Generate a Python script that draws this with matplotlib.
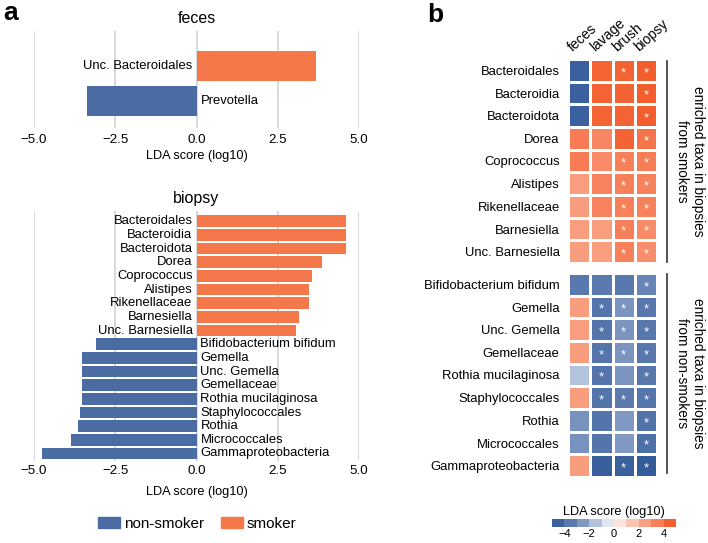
import matplotlib
matplotlib.use("Agg")
import matplotlib.pyplot as plt
from matplotlib.colors import LinearSegmentedColormap, ListedColormap, BoundaryNorm
from matplotlib.patches import Patch
import numpy as np

plt.rcParams['font.family'] = ['Liberation Sans', 'DejaVu Sans']

# ---- data ----
feces_taxa = ["Unc. Bacteroidales", "Prevotella"]
feces_lda = [3.68, -3.37]

biopsy_taxa = ["Bacteroidales", "Bacteroidia", "Bacteroidota", "Dorea", "Coprococcus",
               "Alistipes", "Rikenellaceae", "Barnesiella", "Unc. Barnesiella",
               "Bifidobacterium bifidum", "Gemella", "Unc. Gemella", "Gemellaceae",
               "Rothia mucilaginosa", "Staphylococcales", "Rothia", "Micrococcales",
               "Gammaproteobacteria"]
biopsy_lda = [4.60, 4.60, 4.60, 3.86, 3.56, 3.47, 3.47, 3.15, 3.06,
              -3.10, -3.52, -3.52, -3.52, -3.53, -3.58, -3.66, -3.86, -4.74]

sites = ["feces", "lavage", "brush", "biopsy"]
# heatmap values per taxon: feces, lavage, brush, biopsy
heat_smoker = [
    [-4.5, 4.4, 4.4, 4.60],
    [-4.5, 4.4, 4.4, 4.60],
    [-4.5, 4.4, 4.4, 4.60],
    [3.6, 3.3, 4.4, 3.86],
    [3.6, 3.2, 3.5, 3.56],
    [2.6, 3.4, 3.5, 3.47],
    [2.6, 3.4, 3.5, 3.47],
    [2.6, 2.6, 3.5, 3.15],
    [2.6, 2.6, 3.5, 3.06],
]
heat_nonsmoker = [
    [-3.5, -3.4, -3.5, -3.10],
    [2.6, -3.6, -2.6, -3.52],
    [2.6, -3.6, -2.6, -3.52],
    [2.6, -3.6, -2.6, -3.52],
    [-1.5, -3.6, -2.6, -3.53],
    [2.6, -3.6, -3.4, -3.58],
    [-2.7, -3.6, -2.5, -3.66],
    [-2.7, -3.6, -2.5, -3.86],
    [2.6, -4.6, -4.5, -4.74],
]
star_smoker = [
    [0, 0, 1, 1], [0, 0, 0, 1], [0, 0, 0, 1], [0, 0, 0, 1], [0, 0, 1, 1],
    [0, 0, 1, 1], [0, 0, 1, 1], [0, 0, 1, 1], [0, 0, 1, 1],
]
star_nonsmoker = [
    [0, 0, 0, 1], [0, 1, 1, 1], [0, 1, 1, 1], [0, 1, 1, 1], [0, 1, 0, 1],
    [0, 1, 1, 1], [0, 0, 0, 1], [0, 0, 0, 1], [0, 0, 1, 1],
]
cbar_ticks = [-4, -2, 0, 2, 4]

blue = "#4a6ca3"
orange = "#f5784a"
FS = 9.4

W, H = 708, 543
fig = plt.figure(figsize=(W / 100, H / 100), dpi=100)


def px(x0, y0, x1, y1):
    return [x0 / W, 1 - y1 / H, (x1 - x0) / W, (y1 - y0) / H]


def bar_panel(ax, taxa, vals, title):
    y = np.arange(len(taxa))
    cols = [orange if v > 0 else blue for v in vals]
    ax.barh(y, vals, height=0.86, color=cols, zorder=2)
    for yi, (t, v) in enumerate(zip(taxa, vals)):
        if v > 0:
            ax.text(-0.12, yi, t, ha="right", va="center", fontsize=FS)
        else:
            ax.text(0.12, yi, t, ha="left", va="center", fontsize=FS)
    ax.set_xlim(-5, 5)
    ax.set_xticks([-5, -2.5, 0, 2.5, 5])
    ax.set_xticklabels(["\u22125.0", "\u22122.5", "0.0", "2.5", "5.0"])
    ax.set_yticks([])
    ax.grid(axis="x", color="#d3d3d3", lw=1.2, zorder=0)
    ax.tick_params(axis="x", length=0, labelsize=9.6, pad=4)
    for s in ax.spines.values():
        s.set_visible(False)
    ax.set_xlabel("LDA score (log10)", fontsize=9.2, labelpad=3)
    ax.set_title(title, fontsize=11.5, pad=6)


ax1 = fig.add_axes(px(34, 31, 359, 128))
bar_panel(ax1, feces_taxa, feces_lda, "feces")
ax1.set_ylim(1.76, -1.01)

ax2 = fig.add_axes(px(34, 211, 359, 461))
bar_panel(ax2, biopsy_taxa, biopsy_lda, "biopsy")
ax2.set_ylim(17.55, -0.75)
ax2.tick_params(axis="x", pad=3)
ax2.xaxis.labelpad = 6

handles = [Patch(color=blue, label="non-smoker"), Patch(color=orange, label="smoker")]
fig.legend(handles=handles, loc="center", bbox_to_anchor=(197 / W, 1 - 524 / H), ncol=2,
           frameon=False, fontsize=11, handlelength=1.45, handleheight=0.7,
           handletextpad=0.25, columnspacing=1.1)

# ---- heatmap ----
nodes = [(-5, "#2d5695"), (-3.5, "#5878ae"), (-2.5, "#8099c2"), (-1.5, "#b3c3dc"),
         (-0.5, "#e1e7f1"), (0, "#f7f5f5"), (0.5, "#fde5df"), (1.5, "#fbc3b1"),
         (2.5, "#f9a084"), (3.5, "#f7805a"), (4.5, "#f4602f"), (5, "#f25322")]
cmap = LinearSegmentedColormap.from_list("lda", [((v + 5) / 10, c) for v, c in nodes])


def heat(ax, taxa, vals, stars):
    vals = np.array(vals)
    ax.pcolormesh(vals, cmap=cmap, vmin=-5, vmax=5, edgecolors="white", linewidth=1.8)
    for i in range(vals.shape[0]):
        for j in range(vals.shape[1]):
            if stars[i][j]:
                ax.text(j + 0.5, i + 0.62, "*", color="white", ha="center", va="center",
                        fontsize=9.5)
    ax.set_xlim(0, 4)
    ax.set_ylim(len(taxa), 0)
    ax.set_yticks(np.arange(len(taxa)) + 0.5)
    ax.set_yticklabels(taxa, fontsize=FS)
    ax.set_xticks([])
    ax.tick_params(axis="y", length=0, pad=6)
    for s in ax.spines.values():
        s.set_visible(False)


ax3 = fig.add_axes(px(568, 59, 657, 263))
heat(ax3, biopsy_taxa[:9], heat_smoker, star_smoker)
for j, s in enumerate(sites):
    ax3.text(j + 0.3, -0.2, s, rotation=42, rotation_mode="anchor", ha="left",
             va="bottom", fontsize=10)

ax4 = fig.add_axes(px(568, 273, 657, 477))
heat(ax4, biopsy_taxa[9:], heat_nonsmoker, star_nonsmoker)

# brackets
for (y0, y1, txt) in [(61, 262, "enriched taxa in biopsies\nfrom smokers"),
                      (274, 473, "enriched taxa in biopsies\nfrom non-smokers")]:
    fig.add_artist(plt.Line2D([667 / W, 667 / W], [1 - y0 / H, 1 - y1 / H],
                              color="#333333", lw=1.2))
    fig.text(690 / W, 1 - (y0 + y1) / 2 / H, txt, rotation=-90, ha="center",
             va="center", fontsize=9.8, linespacing=1.2)

# colorbar (discrete)
cax = fig.add_axes(px(552, 519, 676, 527))
bounds = np.arange(-5, 6, 1)
centers = (bounds[:-1] + bounds[1:]) / 2
cb_cmap = ListedColormap([cmap((c + 5) / 10) for c in centers])
cax.pcolormesh(bounds, [0, 1], centers[None, :], cmap=cb_cmap,
               norm=BoundaryNorm(bounds, cb_cmap.N))
cax.set_xlim(-5, 5)
cax.set_yticks([])
cax.set_xticks(cbar_ticks)
cax.set_xticklabels(["\u22124", "\u22122", "0", "2", "4"])
cax.tick_params(axis="x", length=0, labelsize=8, pad=1.5)
for s in cax.spines.values():
    s.set_visible(False)
cax.set_title("LDA score (log10)", fontsize=9.2, pad=3)

fig.text(3 / W, 1 - 13 / H, "a", fontsize=19, fontweight="bold", va="center")
fig.text(427 / W, 1 - 15 / H, "b", fontsize=19, fontweight="bold", va="center")

fig.savefig("out.png", dpi=100)
